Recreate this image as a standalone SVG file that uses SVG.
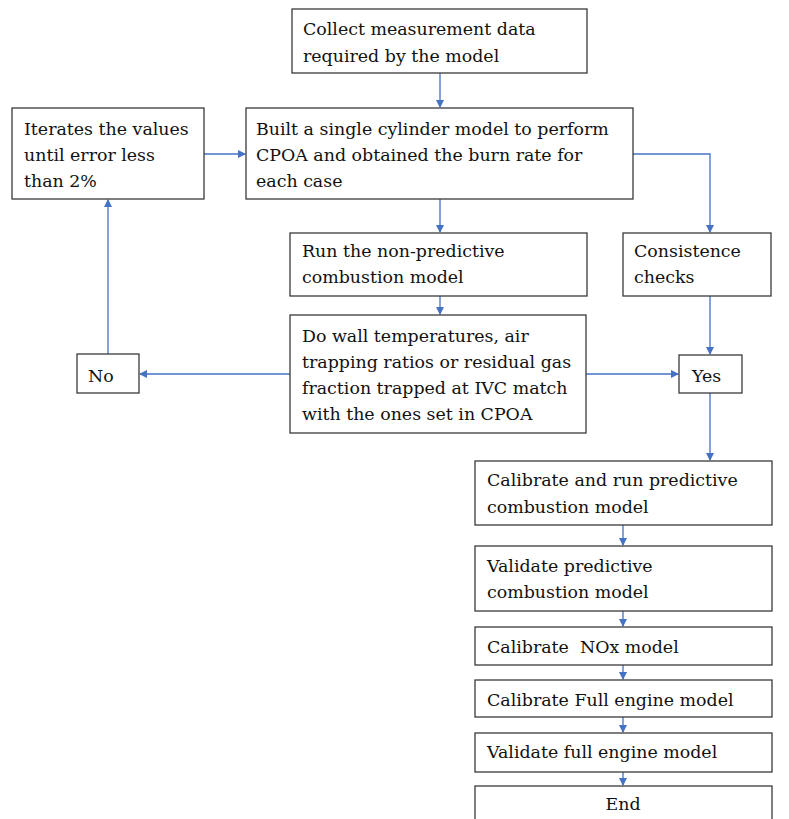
<svg xmlns="http://www.w3.org/2000/svg" width="789" height="819" viewBox="0 0 789 819">
<style>
.box{fill:#fff;stroke:#3a3a3a;stroke-width:1.3}
.t{font-family:'DejaVu Serif',serif;font-size:17.4px;fill:#111}
.c{fill:none;stroke:#4472C4;stroke-width:1.3}
</style>
<defs>
<marker id="ah" markerWidth="8" markerHeight="8" refX="7" refY="4" orient="auto" markerUnits="userSpaceOnUse">
<path d="M0,0 L8,4 L0,8 Z" fill="#4472C4"/>
</marker>
</defs>
<rect width="789" height="819" fill="#fff"/>
<g id="connectors">
<path class="c" d="M440,73 V107" marker-end="url(#ah)"/>
<path class="c" d="M204,154 H245" marker-end="url(#ah)"/>
<path class="c" d="M440,199 V232" marker-end="url(#ah)"/>
<path class="c" d="M633,154 H710 V232" marker-end="url(#ah)"/>
<path class="c" d="M440,296 V314" marker-end="url(#ah)"/>
<path class="c" d="M710,296 V354" marker-end="url(#ah)"/>
<path class="c" d="M586,374 H678" marker-end="url(#ah)"/>
<path class="c" d="M290,374 H140" marker-end="url(#ah)"/>
<path class="c" d="M108,354 V200" marker-end="url(#ah)"/>
<path class="c" d="M710,393 V460" marker-end="url(#ah)"/>
<path class="c" d="M623,525 V545" marker-end="url(#ah)"/>
<path class="c" d="M623,611 V626" marker-end="url(#ah)"/>
<path class="c" d="M623,665 V679" marker-end="url(#ah)"/>
<path class="c" d="M623,717 V732" marker-end="url(#ah)"/>
<path class="c" d="M623,772 V785" marker-end="url(#ah)"/>
</g>
<g id="collect">
<rect class="box" x="292" y="9" width="295" height="64"/>
<text class="t" x="303" y="35">Collect measurement data</text>
<text class="t" x="303" y="62">required by the model</text>
</g>
<g id="iterate">
<rect class="box" x="12" y="108" width="192" height="91"/>
<text class="t" x="24" y="135">Iterates the values</text>
<text class="t" x="24" y="161">until error less</text>
<text class="t" x="24" y="187">than 2%</text>
</g>
<g id="build">
<rect class="box" x="246" y="108" width="387" height="91"/>
<text class="t" x="256" y="135">Built a single cylinder model to perform</text>
<text class="t" x="256" y="161">CPOA and obtained the burn rate for</text>
<text class="t" x="256" y="187">each case</text>
</g>
<g id="run">
<rect class="box" x="290" y="233" width="297" height="63"/>
<text class="t" x="302" y="257">Run the non-predictive</text>
<text class="t" x="302" y="283">combustion model</text>
</g>
<g id="consistence">
<rect class="box" x="623" y="233" width="148" height="63"/>
<text class="t" x="634" y="257">Consistence</text>
<text class="t" x="634" y="283">checks</text>
</g>
<g id="check">
<rect class="box" x="290" y="315" width="296" height="118"/>
<text class="t" x="302" y="342">Do wall temperatures, air</text>
<text class="t" x="302" y="368">trapping ratios or residual gas</text>
<text class="t" x="302" y="394">fraction trapped at IVC match</text>
<text class="t" x="302" y="420">with the ones set in CPOA</text>
</g>
<g id="no">
<rect class="box" x="77" y="354" width="62" height="39"/>
<text class="t" x="88" y="382">No</text>
</g>
<g id="yes">
<rect class="box" x="679" y="355" width="63" height="38"/>
<text class="t" x="692" y="382">Yes</text>
</g>
<g id="calpred">
<rect class="box" x="475" y="461" width="297" height="64"/>
<text class="t" x="487" y="486">Calibrate and run predictive</text>
<text class="t" x="487" y="513">combustion model</text>
</g>
<g id="valpred">
<rect class="box" x="475" y="546" width="297" height="65"/>
<text class="t" x="487" y="572">Validate predictive</text>
<text class="t" x="487" y="598">combustion model</text>
</g>
<g id="nox">
<rect class="box" x="475" y="627" width="297" height="38"/>
<text class="t" x="487" y="653" xml:space="preserve">Calibrate  NOx model</text>
</g>
<g id="calfull">
<rect class="box" x="475" y="680" width="297" height="37"/>
<text class="t" x="487" y="706">Calibrate Full engine model</text>
</g>
<g id="valfull">
<rect class="box" x="475" y="733" width="297" height="39"/>
<text class="t" x="487" y="758">Validate full engine model</text>
</g>
<g id="end">
<rect class="box" x="475" y="786" width="297" height="40"/>
<text class="t" x="623" y="810" text-anchor="middle">End</text>
</g>
</svg>
